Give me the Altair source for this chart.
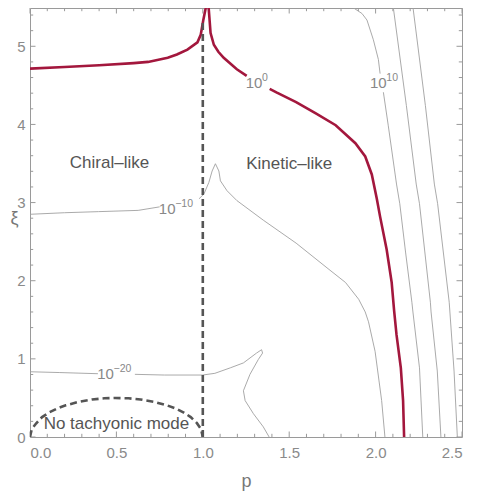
import altair as alt
import pandas as pd

# ---------------- data ----------------
# contour 10^0 (red), split around its label
red_1_p = [0.0, 0.2, 0.4, 0.6, 0.683, 0.797, 0.85, 0.911, 0.969, 0.988, 1.003, 1.016, 1.022,
           1.03, 1.035, 1.045, 1.064, 1.09, 1.121, 1.197, 1.254]
red_1_xi = [4.714, 4.735, 4.757, 4.785, 4.80, 4.853, 4.895, 4.958, 5.05, 5.147, 5.336, 5.48, 5.58,
            5.58, 5.46, 5.17, 5.02, 4.93, 4.853, 4.706, 4.622]
red_2_p = [1.387, 1.426, 1.54, 1.654, 1.769, 1.883, 1.94, 1.978, 2.007, 2.026, 2.064, 2.093,
           2.107, 2.121, 2.146, 2.159, 2.165]
red_2_xi = [4.455, 4.41, 4.286, 4.14, 3.99, 3.76, 3.59, 3.36, 3.05, 2.82, 2.40, 1.98,
            1.62, 1.31, 0.885, 0.466, 0.0]

# contour 10^10
c10_1_p = [1.85, 1.866, 1.921, 1.95, 1.987, 2.016, 2.026]
c10_1_xi = [5.58, 5.50, 5.42, 5.336, 5.084, 4.832, 4.65]
c10_2_p = [2.045, 2.073, 2.121, 2.14, 2.174, 2.21, 2.216, 2.254, 2.273]
c10_2_xi = [4.412, 3.99, 3.237, 2.985, 2.355, 1.725, 1.6, 0.885, 0.0]

# contour 10^20
c20_p = [2.095, 2.102, 2.178, 2.235, 2.254, 2.317, 2.321, 2.357, 2.378]
c20_xi = [5.58, 5.504, 4.244, 3.237, 2.985, 1.725, 1.6, 0.844, 0.0]

# contour 10^30
c30_p = [2.21, 2.216, 2.288, 2.34, 2.359, 2.426, 2.454, 2.473]
c30_xi = [5.58, 5.504, 4.244, 3.237, 2.985, 1.725, 0.844, 0.0]

# contour 10^-10
m10_1_p = [0.0, 0.2, 0.397, 0.626, 0.75]
m10_1_xi = [2.85, 2.87, 2.884, 2.90, 2.945]
m10_2_p = [0.978, 1.007, 1.035, 1.054, 1.073, 1.093, 1.102, 1.14, 1.197, 1.35, 1.54, 1.73,
           1.826, 1.902, 1.94, 1.959, 1.997, 2.035, 2.054]
m10_2_xi = [3.048, 3.111, 3.258, 3.404, 3.497, 3.404, 3.278, 3.152, 3.026, 2.775, 2.481, 2.145,
            1.977, 1.763, 1.60, 1.474, 1.096, 0.466, 0.0]

# contour 10^-20
m20_1_p = [0.0, 0.169, 0.393]
m20_1_xi = [0.835, 0.825, 0.81]
m20_2_p = [0.607, 0.778, 0.999, 1.07, 1.159, 1.235, 1.311, 1.34, 1.346, 1.321, 1.273, 1.235,
           1.245, 1.293, 1.35, 1.384]
m20_2_xi = [0.802, 0.793, 0.793, 0.815, 0.885, 0.948, 1.074, 1.117, 1.074, 0.991, 0.802, 0.592,
            0.466, 0.298, 0.13, 0.0]

# dashed boundaries
arc_p = [0.0, 0.01, 0.035, 0.07, 0.111, 0.16, 0.207, 0.28, 0.359, 0.43, 0.493, 0.57, 0.64,
         0.72, 0.79, 0.84, 0.89, 0.93, 0.965, 0.99, 1.0]
arc_xi = [0.0, 0.1, 0.172, 0.255, 0.314, 0.367, 0.405, 0.449, 0.48, 0.495, 0.5, 0.495, 0.48,
          0.449, 0.407, 0.367, 0.313, 0.255, 0.18, 0.1, 0.0]
vline_p = [1.0, 1.0]
vline_xi = [0.0, 5.3]

# contour labels
lab_p = [1.297, 2.016, 0.794, 0.437]
lab_xi = [4.528, 4.528, 2.92, 0.81]
lab_exp = ["0", "10", "\u221210", "\u221220"]

# region labels
reg_text = ["Chiral\u2013like", "Kinetic\u2013like", "No tachyonic mode"]
reg_p = [0.46, 1.5, 0.5]
reg_xi = [3.51, 3.49, 0.164]

# ticks
x_major = [0.0, 0.5, 1.0, 1.5, 2.0, 2.5]
x_minor = [0.1, 0.2, 0.3, 0.4, 0.6, 0.7, 0.8, 0.9, 1.1, 1.2, 1.3, 1.4, 1.6, 1.7, 1.8, 1.9,
           2.1, 2.2, 2.3, 2.4]
y_major = [0, 1, 2, 3, 4, 5]
y_minor = [0.2, 0.4, 0.6, 0.8, 1.2, 1.4, 1.6, 1.8, 2.2, 2.4, 2.6, 2.8, 3.2, 3.4, 3.6, 3.8,
           4.2, 4.4, 4.6, 4.8, 5.2, 5.4]

# ---------------- build tables ----------------
def curve_rows(kind, segs):
    out = []
    for s, (ps, xs_) in enumerate(segs):
        for i, (a, b) in enumerate(zip(ps, xs_)):
            out.append({"p": a, "xi": b, "kind": kind, "seg": f"{kind}_{s}", "i": i})
    return out

gray_df = pd.DataFrame(
    curve_rows("c10", [(c10_1_p, c10_1_xi), (c10_2_p, c10_2_xi)])
    + curve_rows("c20", [(c20_p, c20_xi)])
    + curve_rows("c30", [(c30_p, c30_xi)])
    + curve_rows("m10", [(m10_1_p, m10_1_xi), (m10_2_p, m10_2_xi)])
    + curve_rows("m20", [(m20_1_p, m20_1_xi), (m20_2_p, m20_2_xi)])
)
red_df = pd.DataFrame(curve_rows("red", [(red_1_p, red_1_xi), (red_2_p, red_2_xi)]))
dash_df = pd.DataFrame(curve_rows("arc", [(arc_p, arc_xi)]) + curve_rows("vl", [(vline_p, vline_xi)]))
lab_df = pd.DataFrame({"p": lab_p, "xi": lab_xi, "exp": lab_exp, "base": ["10"] * len(lab_p)})
reg_df = pd.DataFrame({"p": reg_p, "xi": reg_xi, "t": reg_text})

W, H = 432, 429
FONT = "Liberation Sans"
GRAY = "#9a9a9a"

xs = alt.Scale(domain=[0, 2.5], nice=False, zero=False)
ys = alt.Scale(domain=[0, 5.49], nice=False, zero=False)

xaxis = alt.Axis(values=x_major, format=".1f", ticks=False, domain=False, grid=False,
                 labelPadding=8, labelFontSize=15, labelColor="#8a8a8a",
                 labelFont=FONT, titleFont=FONT, titleFontSize=18,
                 titleFontWeight="normal", titleColor="#777777", titlePadding=12)
yaxis = alt.Axis(values=y_major, format="d", ticks=False, domain=False, grid=False,
                 labelPadding=5, labelFontSize=15, labelColor="#8a8a8a",
                 labelFont=FONT, titleFont=FONT, titleFontSize=18,
                 titleFontWeight="normal", titleColor="#777777", titleAngle=0,
                 titleAlign="center", titleBaseline="middle",
                 titleX=-16, titleY=H / 2 - 4)

X = alt.X("p:Q", scale=xs, axis=xaxis, title="p")
Y = alt.Y("xi:Q", scale=ys, axis=yaxis, title="\u03be")

gray = alt.Chart(gray_df).mark_line(color="#a0a0a0", strokeWidth=0.9, clip=True).encode(
    x=X, y=Y, detail="seg:N", order="i:Q")
red = alt.Chart(red_df).mark_line(color="#a3173d", strokeWidth=2.6, clip=True).encode(
    x=X, y=Y, detail="seg:N", order="i:Q")
dash = alt.Chart(dash_df).mark_line(color="#555555", strokeWidth=2.6, strokeDash=[7, 4],
                                    clip=True).encode(x=X, y=Y, detail="seg:N", order="i:Q")

lab_base = alt.Chart(lab_df).mark_text(font=FONT, fontSize=15, color="#888888",
                                       align="center", baseline="middle").encode(
    x=X, y=Y, text="base:N")
lab_exp_ch = alt.Chart(lab_df).mark_text(font=FONT, fontSize=10.5, color="#888888",
                                         align="left", baseline="middle", dx=8, dy=-5).encode(
    x=X, y=Y, text="exp:N")
regions = alt.Chart(reg_df).mark_text(font=FONT, fontSize=17, color="#555555",
                                      align="center", baseline="middle").encode(
    x=X, y=Y, text="t:N")

def tdf(vals, col):
    return pd.DataFrame({col: vals})

TL, TS = 5.5, 3.2
ticks = []
for vals, ln in ((x_major, TL), (x_minor, TS)):
    ticks.append(alt.Chart(tdf(vals, "p")).mark_rule(color=GRAY, strokeWidth=1).encode(
        x=X, y=alt.value(H), y2=alt.value(H - ln)))
    ticks.append(alt.Chart(tdf(vals, "p")).mark_rule(color=GRAY, strokeWidth=1).encode(
        x=X, y=alt.value(0), y2=alt.value(ln)))
for vals, ln in ((y_major, TL), (y_minor, TS)):
    ticks.append(alt.Chart(tdf(vals, "xi")).mark_rule(color=GRAY, strokeWidth=1).encode(
        y=Y, x=alt.value(0), x2=alt.value(ln)))
    ticks.append(alt.Chart(tdf(vals, "xi")).mark_rule(color=GRAY, strokeWidth=1).encode(
        y=Y, x=alt.value(W), x2=alt.value(W - ln)))

chart = alt.layer(*ticks, gray, red, dash, lab_base, lab_exp_ch, regions).properties(
    width=W, height=H,
    autosize=alt.AutoSizeParams(type="none"),
    padding={"left": 22, "top": 0, "right": 9, "bottom": 56},
).configure_view(stroke=GRAY, strokeWidth=1)

chart.save("out.html", embed_options={"renderer": "svg", "actions": False})
